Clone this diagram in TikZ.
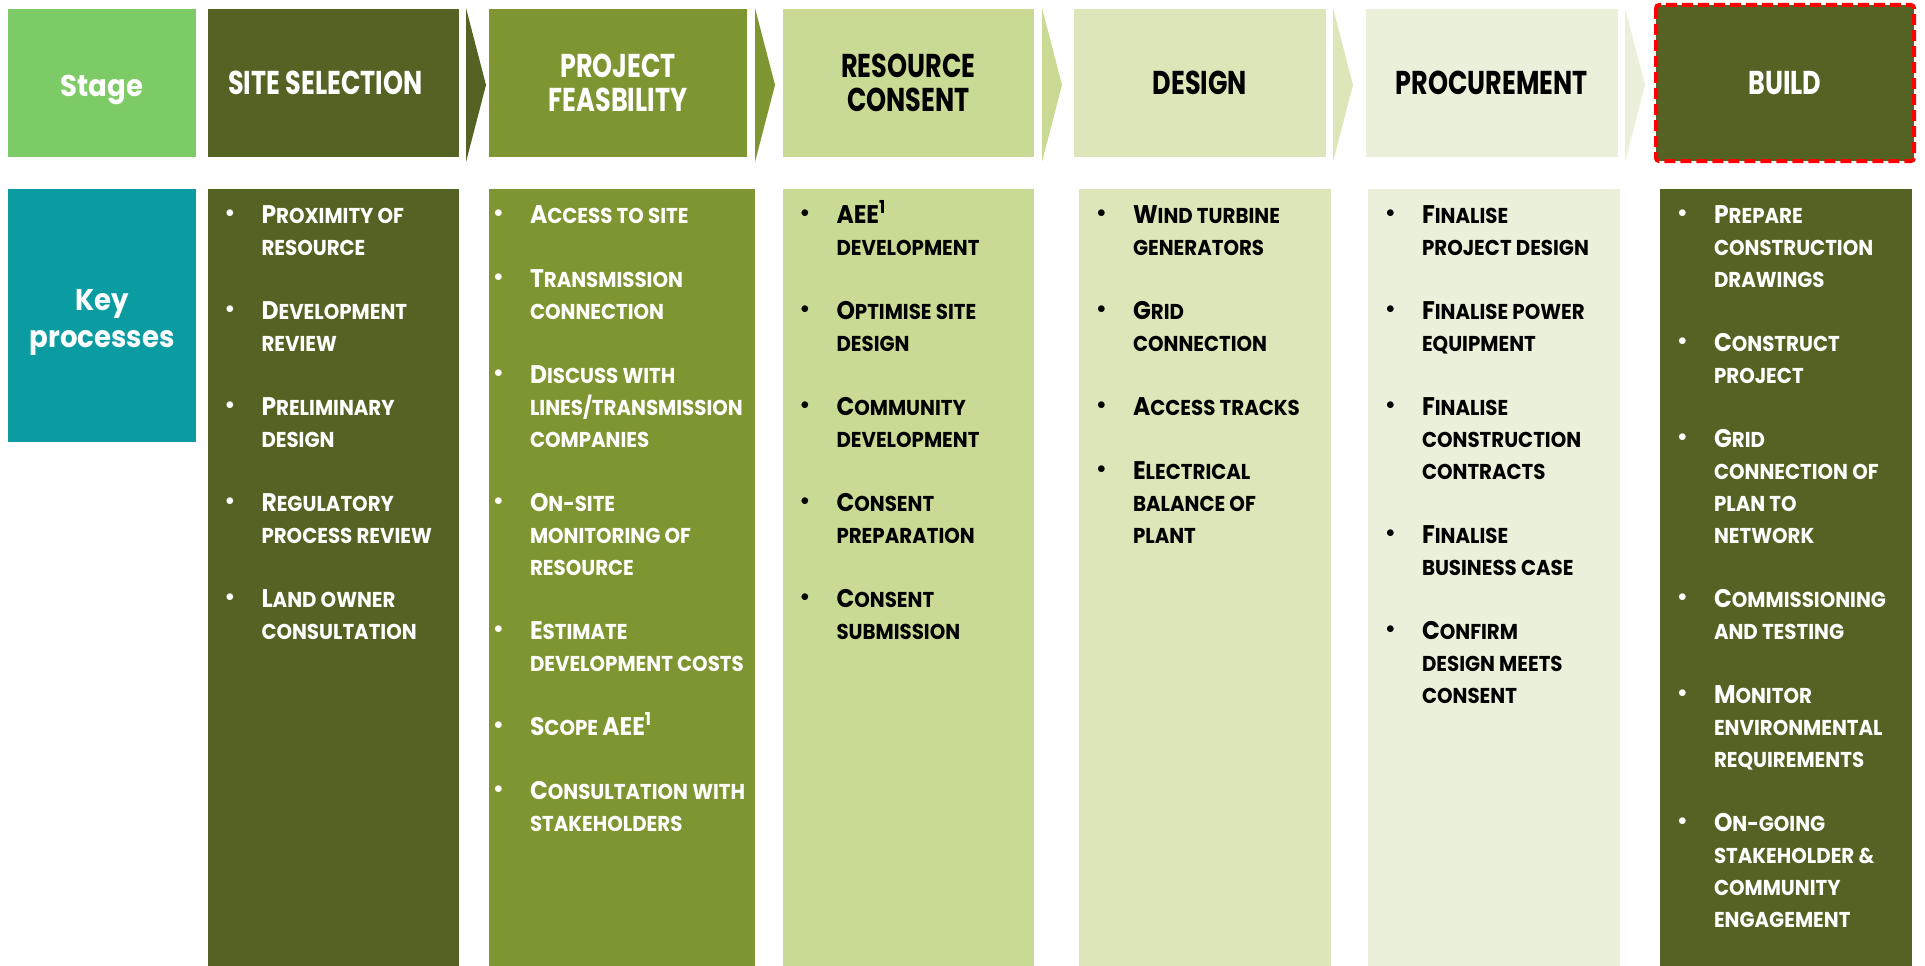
\documentclass[tikz,border=0pt]{standalone}
\usepackage{fontspec}
\setmainfont{Poppins}[FakeStretch=0.92]
\usepackage{graphicx}
\definecolor{cStage}{HTML}{7DCB66}
\definecolor{cKey}{HTML}{0A9CA1}
\definecolor{cDark}{HTML}{546323}
\definecolor{cOlive}{HTML}{7E9632}
\definecolor{cRes}{HTML}{C9DA95}
\definecolor{cDes}{HTML}{DCE6B8}
\definecolor{cProc}{HTML}{EBF0DA}
\definecolor{cRed}{HTML}{FF0000}
\newcommand\hs[1]{\scalebox{0.84}[1]{#1}}
\newcommand\B[1]{{\fontsize{25.5}{32}\selectfont #1}}
\newcommand\bul{\makebox[36pt][l]{\raisebox{5.5pt}{\fontsize{16}{16}\selectfont$\bullet$}}}
\newcommand\itm[1]{\hangindent=36pt\hangafter=1\noindent\bul #1\par}
\newcommand\gap{\vspace{32pt}}
\newcommand\colbody[1]{\parbox[t]{300pt}{\fontsize{21.5}{32}\selectfont\bfseries\parindent=0pt\parskip=0pt #1}}
\begin{document}
\begin{tikzpicture}[x=1pt,y=-1pt,
  box/.style={inner sep=0pt,outer sep=0pt,draw=none,align=center},
  hdr/.style={box,minimum width=#1,minimum height=148pt,font=\bfseries\fontsize{33}{34}\selectfont},
  colbox/.style={box,minimum width=#1,minimum height=777pt},
  items/.style={inner sep=0pt,outer sep=0pt,anchor=base west},
  lbl/.style={inner sep=0pt,outer sep=0pt,align=center,text=white,font=\bfseries\fontsize{30}{37}\selectfont}]
\useasboundingbox (0,0) rectangle (1925,966);
% header row
\node[hdr=188pt,fill=cStage] (hstage) at (102,83) {};
\node[lbl] (tstage) at (102,90) {Stage};
\node[hdr=251.5pt,fill=cDark,text=white] (hsite) at (333.25,83) {\hs{SITE SELECTION}\hspace*{16pt}};
\node[hdr=258pt,fill=cOlive,text=white] (hfeas) at (618,83) {\hs{PROJECT}\\\hs{FEASBILITY}};
\node[hdr=251.5pt,fill=cRes,text=black] (hres) at (908.25,83) {\hs{RESOURCE}\\\hs{CONSENT}};
\node[hdr=252pt,fill=cDes,text=black] (hdes) at (1200,83) {\hs{DESIGN}};
\node[hdr=251.5pt,fill=cProc,text=black] (hproc) at (1491.75,83) {\hs{PROCUREMENT}};
\node[hdr=258pt,minimum height=156pt,fill=cDark,text=white] (hbuild) at (1785,83) {\hs{BUILD}};
\draw[cRed,line width=4pt,dash pattern=on 11pt off 5pt,rounded corners=3pt] (hbuild.north west) rectangle (hbuild.south east);
% chevrons
\fill[cDark]  (466,8) -- (486,85) -- (466,162) -- cycle;
\fill[cOlive] (755,8) -- (775,85) -- (755,162) -- cycle;
\fill[cRes]   (1042,8) -- (1062,85) -- (1042,162) -- cycle;
\fill[cDes]   (1333,8) -- (1353,85) -- (1333,162) -- cycle;
\fill[cProc]  (1625,8) -- (1645,85) -- (1625,162) -- cycle;
% body row
\node[box,minimum width=188pt,minimum height=253pt,fill=cKey] (key) at (102,315.5) {};
\node[lbl] (tkey) at (102,322) {Key\\processes};
\node[colbox=251.5pt,fill=cDark] (csite) at (333.25,577.5) {};
\node[colbox=266pt,fill=cOlive] (cfeas) at (622,577.5) {};
\node[colbox=251.5pt,fill=cRes] (cres) at (908.25,577.5) {};
\node[colbox=252pt,fill=cDes] (cdes) at (1205,577.5) {};
\node[colbox=251.5pt,fill=cProc] (cproc) at (1493.75,577.5) {};
\node[colbox=251.5pt,fill=cDark] (cbuild) at (1785.75,577.5) {};
% items
\node[items,text=white] (isite) at (225.5,223) {\colbody{%
\itm{\B{P}ROXIMITY OF\\RESOURCE}\gap
\itm{\B{D}EVELOPMENT\\REVIEW}\gap
\itm{\B{P}RELIMINARY\\DESIGN}\gap
\itm{\B{R}EGULATORY\\PROCESS REVIEW}\gap
\itm{\B{L}AND OWNER\\CONSULTATION}}};
\node[items,text=white] (ifeas) at (494,223) {\colbody{%
\itm{\B{A}CCESS TO SITE}\gap
\itm{\B{T}RANSMISSION\\CONNECTION}\gap
\itm{\B{D}ISCUSS WITH\\LINES/TRANSMISSION\\COMPANIES}\gap
\itm{\B{O}N-SITE\\MONITORING OF\\RESOURCE}\gap
\itm{\B{E}STIMATE\\DEVELOPMENT COSTS}\gap
\itm{\B{S}COPE \B{AEE\textsuperscript{1}}}\gap
\itm{\B{C}ONSULTATION WITH\\STAKEHOLDERS}}};
\node[items,text=black] (ires) at (800.5,223) {\colbody{%
\itm{\B{AEE\textsuperscript{1}}\\DEVELOPMENT}\gap
\itm{\B{O}PTIMISE SITE\\DESIGN}\gap
\itm{\B{C}OMMUNITY\\DEVELOPMENT}\gap
\itm{\B{C}ONSENT\\PREPARATION}\gap
\itm{\B{C}ONSENT\\SUBMISSION}}};
\node[items,text=black] (ides) at (1097,223) {\colbody{%
\itm{\B{W}IND TURBINE\\GENERATORS}\gap
\itm{\B{G}RID\\CONNECTION}\gap
\itm{\B{A}CCESS TRACKS}\gap
\itm{\B{E}LECTRICAL\\BALANCE OF\\PLANT}}};
\node[items,text=black] (iproc) at (1386,223) {\colbody{%
\itm{\B{F}INALISE\\PROJECT DESIGN}\gap
\itm{\B{F}INALISE POWER\\EQUIPMENT}\gap
\itm{\B{F}INALISE\\CONSTRUCTION\\CONTRACTS}\gap
\itm{\B{F}INALISE\\BUSINESS CASE}\gap
\itm{\B{C}ONFIRM\\DESIGN MEETS\\CONSENT}}};
\node[items,text=white] (ibuild) at (1678,223) {\colbody{%
\itm{\B{P}REPARE\\CONSTRUCTION\\DRAWINGS}\gap
\itm{\B{C}ONSTRUCT\\PROJECT}\gap
\itm{\B{G}RID\\CONNECTION OF\\PLAN TO\\NETWORK}\gap
\itm{\B{C}OMMISSIONING\\AND TESTING}\gap
\itm{\B{M}ONITOR\\ENVIRONMENTAL\\REQUIREMENTS}\gap
\itm{\B{O}N-GOING\\STAKEHOLDER \&\\COMMUNITY\\ENGAGEMENT}}};
\end{tikzpicture}
\end{document}
